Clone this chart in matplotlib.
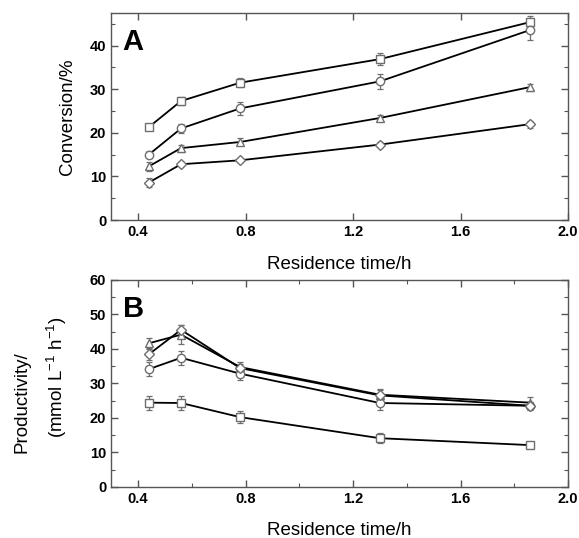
import matplotlib
matplotlib.use("Agg")
import matplotlib.pyplot as plt
from matplotlib.ticker import MultipleLocator, NullLocator

plt.rcParams["font.family"] = ["Liberation Sans", "DejaVu Sans"]
plt.rcParams["mathtext.fontset"] = "custom"
plt.rcParams["mathtext.rm"] = "Liberation Sans"

# residence time [h]
res_time = [0.44, 0.56, 0.78, 1.30, 1.86]

# panel A: conversion [%]
conv_square = [21.3, 27.3, 31.5, 36.9, 45.4]
conv_square_err = [0.6, 1.0, 1.0, 1.3, 1.5]
conv_circle = [15.0, 21.0, 25.6, 31.8, 43.6]
conv_circle_err = [0.8, 1.1, 1.5, 1.8, 2.3]
conv_triangle = [12.3, 16.5, 17.9, 23.4, 30.5]
conv_triangle_err = [1.0, 0.8, 0.8, 0.7, 0.8]
conv_diamond = [8.6, 12.8, 13.7, 17.3, 22.0]
conv_diamond_err = [1.0, 0.5, 0.5, 0.5, 0.8]

# panel B: productivity [mmol L-1 h-1]
prod_square = [24.4, 24.3, 20.2, 14.1, 12.1]
prod_square_err = [2.0, 2.0, 1.8, 1.5, 0.6]
prod_circle = [34.1, 37.4, 32.8, 24.3, 23.5]
prod_circle_err = [2.0, 2.0, 1.7, 2.0, 1.2]
prod_triangle = [41.6, 44.1, 34.7, 26.7, 24.4]
prod_triangle_err = [1.5, 2.7, 1.5, 1.8, 1.5]
prod_diamond = [38.4, 45.5, 34.4, 26.5, 23.5]
prod_diamond_err = [1.5, 1.5, 1.2, 1.5, 1.0]

grey = "#6e6e6e"


def draw_series(ax, y, yerr, marker, ms):
    ax.errorbar(res_time, y, yerr=yerr, fmt="none", ecolor=grey,
                elinewidth=0.9, capsize=2, capthick=0.9, zorder=2)
    ax.plot(res_time, y, color="black", lw=1.3, zorder=3)
    ax.plot(res_time, y, ls="none", marker=marker, ms=ms, mfc="white",
            mec=grey, mew=1.0, zorder=4)


def style_axis(ax, ymax, x_minor):
    ax.set_xlim(0.3, 2.0)
    ax.set_ylim(0, ymax)
    ax.xaxis.set_major_locator(MultipleLocator(0.4))
    if x_minor:
        ax.xaxis.set_minor_locator(MultipleLocator(0.2))
    else:
        ax.xaxis.set_minor_locator(NullLocator())
    ax.yaxis.set_major_locator(MultipleLocator(10))
    ax.yaxis.set_minor_locator(MultipleLocator(5))
    ax.tick_params(which="both", direction="in", top=True, right=True,
                   color="#555555")
    ax.tick_params(which="major", length=5, width=1.0, labelsize=10.5)
    ax.tick_params(which="minor", length=3, width=0.8)
    for sp in ax.spines.values():
        sp.set_color("#555555")
        sp.set_linewidth(1.0)
    ax.set_xlabel("Residence time/h", fontsize=13.5, labelpad=12)
    for lab in ax.get_xticklabels() + ax.get_yticklabels():
        lab.set_fontweight("bold")


fig = plt.figure(figsize=(5.79, 5.38), dpi=100)
ax_a = fig.add_axes([0.192, 0.591, 0.789, 0.385])
ax_b = fig.add_axes([0.192, 0.095, 0.789, 0.385])

# panel A
draw_series(ax_a, conv_square, conv_square_err, "s", 5.5)
draw_series(ax_a, conv_circle, conv_circle_err, "o", 6)
draw_series(ax_a, conv_triangle, conv_triangle_err, "^", 6)
draw_series(ax_a, conv_diamond, conv_diamond_err, "D", 5)
style_axis(ax_a, 47.5, False)
ax_a.set_ylabel("Conversion/%", fontsize=13.5, labelpad=10)
ax_a.text(0.025, 0.925, "A", transform=ax_a.transAxes, fontsize=21,
          fontweight="bold", va="top", ha="left")

# panel B
draw_series(ax_b, prod_square, prod_square_err, "s", 5.5)
draw_series(ax_b, prod_circle, prod_circle_err, "o", 6)
draw_series(ax_b, prod_triangle, prod_triangle_err, "^", 6)
draw_series(ax_b, prod_diamond, prod_diamond_err, "D", 5)
style_axis(ax_b, 60, True)
# the two label lines are offset from each other in the original
fig.text(0.038, 0.252, "Productivity/", rotation=90,
         fontsize=13.5, ha="center", va="center")
fig.text(0.098, 0.30, "(mmol L$^{-1}$ h$^{-1}$)", rotation=90,
         fontsize=13.5, ha="center", va="center")
ax_b.text(0.025, 0.925, "B", transform=ax_b.transAxes, fontsize=21,
          fontweight="bold", va="top", ha="left")

fig.savefig("out.png", dpi=100)
